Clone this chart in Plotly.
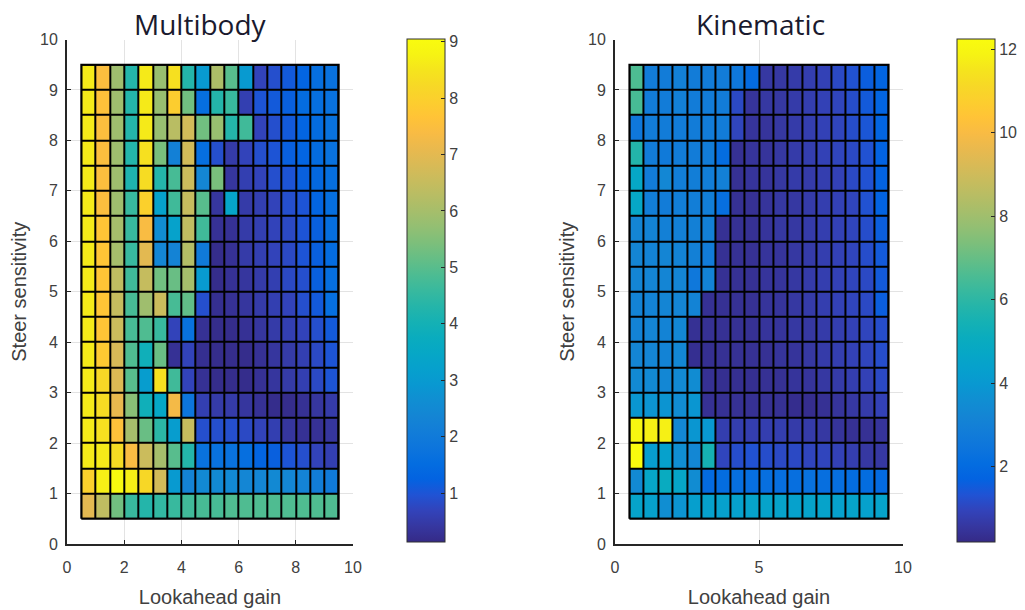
import plotly.graph_objects as go

# ---------------- data ----------------
lookahead_gain = [0.75, 1.25, 1.75, 2.25, 2.75, 3.25, 3.75, 4.25, 4.75,
                  5.25, 5.75, 6.25, 6.75, 7.25, 7.75, 8.25, 8.75, 9.25]
# rows listed from top (9.25) to bottom (0.75)
steer_sensitivity = [9.25, 8.75, 8.25, 7.75, 7.25, 6.75, 6.25, 5.75, 5.25,
                     4.75, 4.25, 3.75, 3.25, 2.75, 2.25, 1.75, 1.25, 0.75]

multibody = [
    [8.6, 7.5, 5.9, 4.3, 8.6, 5.8, 8.4, 4.3, 3.0, 6.1, 5.0, 3.0, 0.7, 0.9, 1.1, 1.3, 1.6, 1.7],
    [8.6, 7.6, 5.9, 4.3, 8.6, 5.8, 7.9, 5.3, 1.6, 4.3, 4.6, 0.6, 1.0, 1.1, 1.2, 1.5, 1.6, 1.7],
    [8.6, 7.5, 5.9, 4.3, 8.6, 5.8, 6.3, 6.7, 5.3, 5.8, 4.3, 4.7, 0.7, 0.9, 1.1, 1.3, 1.5, 1.7],
    [8.6, 7.5, 5.9, 4.3, 8.4, 5.4, 2.2, 6.7, 1.6, 0.9, 0.5, 0.7, 0.9, 1.0, 1.2, 1.3, 1.5, 1.7],
    [8.6, 7.5, 5.9, 4.2, 8.3, 4.3, 4.8, 6.6, 2.4, 5.4, 0.4, 0.6, 0.7, 0.9, 1.0, 1.2, 1.4, 1.6],
    [8.6, 7.5, 5.9, 4.6, 8.0, 3.3, 4.7, 6.5, 5.0, 0.4, 3.4, 0.5, 0.6, 0.7, 0.9, 1.0, 1.3, 1.6],
    [8.6, 7.7, 6.0, 4.6, 7.4, 2.6, 3.3, 6.4, 4.7, 0.3, 0.3, 0.5, 0.6, 0.7, 0.8, 1.0, 1.2, 1.6],
    [8.6, 7.7, 6.0, 4.6, 7.0, 2.4, 2.3, 6.2, 2.0, 0.2, 0.3, 0.5, 0.6, 0.7, 0.8, 1.0, 1.2, 1.5],
    [8.6, 7.7, 6.4, 4.7, 6.5, 5.3, 5.2, 6.0, 3.0, 0.2, 0.3, 0.4, 0.5, 0.6, 0.8, 0.9, 1.2, 1.6],
    [8.6, 7.7, 6.5, 4.8, 5.9, 6.6, 4.8, 5.1, 0.9, 0.25, 0.3, 0.4, 0.5, 0.6, 0.7, 0.9, 1.1, 1.6],
    [8.6, 7.7, 6.6, 4.8, 4.9, 4.6, 0.7, 1.7, 0.3, 0.2, 0.2, 0.3, 0.4, 0.5, 0.6, 0.7, 0.9, 1.1],
    [8.6, 7.8, 6.8, 4.9, 3.9, 5.2, 0.3, 0.7, 0.25, 0.2, 0.2, 0.2, 0.3, 0.4, 0.5, 0.6, 0.8, 1.0],
    [8.6, 8.2, 6.9, 5.0, 3.1, 8.4, 4.7, 0.7, 0.3, 0.2, 0.2, 0.2, 0.3, 0.4, 0.5, 0.6, 0.8, 1.0],
    [8.6, 8.3, 7.1, 5.6, 3.9, 3.5, 7.3, 1.8, 0.6, 0.5, 0.5, 0.4, 0.3, 0.2, 0.2, 0.3, 0.4, 0.5],
    [8.6, 8.4, 7.6, 6.0, 5.2, 4.4, 3.1, 6.5, 0.9, 0.9, 0.9, 0.8, 0.7, 0.6, 0.4, 0.3, 0.3, 0.4],
    [8.6, 8.6, 8.3, 7.4, 6.6, 6.0, 5.0, 4.3, 1.7, 1.7, 1.7, 1.6, 1.3, 1.2, 1.0, 0.9, 0.7, 0.6],
    [8.0, 8.7, 9.0, 8.7, 8.2, 6.7, 3.0, 2.3, 2.5, 2.5, 2.5, 2.4, 2.4, 2.5, 2.4, 2.3, 2.1, 2.0],
    [7.0, 6.4, 5.3, 4.6, 4.3, 4.5, 4.6, 4.7, 4.8, 4.8, 4.9, 4.9, 4.9, 4.9, 4.9, 4.9, 4.9, 4.9],
]

kinematic = [
    [6.6, 2.8, 2.8, 3.0, 2.8, 2.8, 2.8, 2.6, 2.0, 0.6, 0.6, 0.7, 0.8, 0.9, 1.1, 1.3, 1.6, 1.8],
    [6.5, 2.8, 2.8, 3.0, 2.8, 2.8, 2.8, 1.1, 0.5, 0.6, 0.6, 0.7, 0.8, 0.9, 1.0, 1.2, 1.5, 1.8],
    [2.6, 2.8, 2.8, 2.8, 2.8, 2.8, 2.8, 1.0, 0.5, 0.5, 0.6, 0.7, 0.8, 0.9, 1.0, 1.2, 1.4, 1.8],
    [5.8, 2.8, 2.7, 2.8, 2.8, 2.8, 2.1, 0.4, 0.5, 0.5, 0.6, 0.7, 0.8, 0.9, 1.0, 1.1, 1.3, 1.7],
    [4.7, 2.8, 3.3, 2.9, 2.9, 2.9, 3.0, 0.4, 0.5, 0.5, 0.6, 0.7, 0.7, 0.8, 0.9, 1.1, 1.3, 1.7],
    [4.7, 2.9, 2.8, 2.9, 2.9, 2.9, 2.2, 0.4, 0.4, 0.5, 0.6, 0.6, 0.7, 0.8, 0.9, 1.0, 1.3, 1.7],
    [3.2, 3.1, 3.0, 3.0, 3.0, 3.0, 0.4, 0.4, 0.4, 0.5, 0.6, 0.6, 0.7, 0.8, 0.9, 1.0, 1.2, 1.6],
    [3.2, 3.1, 3.2, 3.1, 3.0, 2.8, 0.4, 0.4, 0.4, 0.5, 0.5, 0.6, 0.7, 0.8, 0.9, 1.0, 1.2, 1.5],
    [3.2, 3.2, 3.2, 3.2, 2.6, 3.1, 0.4, 0.4, 0.4, 0.5, 0.5, 0.6, 0.7, 0.8, 0.9, 1.0, 1.1, 1.5],
    [3.1, 3.1, 3.2, 3.2, 3.1, 0.4, 0.4, 0.4, 0.4, 0.5, 0.5, 0.6, 0.7, 0.8, 0.9, 1.0, 1.1, 1.6],
    [3.1, 3.2, 3.1, 3.3, 0.4, 0.4, 0.4, 0.4, 0.4, 0.5, 0.5, 0.6, 0.6, 0.7, 0.8, 0.9, 1.0, 1.2],
    [3.2, 3.2, 3.1, 3.3, 0.35, 0.35, 0.4, 0.4, 0.4, 0.4, 0.5, 0.5, 0.6, 0.7, 0.8, 0.9, 1.0, 1.2],
    [3.4, 3.4, 3.3, 3.4, 3.5, 0.4, 0.35, 0.35, 0.35, 0.4, 0.4, 0.5, 0.5, 0.6, 0.7, 0.8, 0.9, 1.1],
    [3.9, 3.8, 3.8, 3.5, 3.9, 0.4, 0.4, 0.4, 0.4, 0.4, 0.4, 0.3, 0.3, 0.4, 0.5, 0.6, 0.7, 0.9],
    [12.0, 11.8, 11.8, 3.3, 3.9, 4.0, 0.8, 0.8, 0.8, 0.8, 0.8, 0.7, 0.7, 0.6, 0.5, 0.4, 0.4, 0.5],
    [12.25, 4.2, 4.4, 3.6, 3.3, 5.5, 1.0, 1.2, 1.3, 1.2, 1.1, 1.1, 1.0, 1.0, 0.9, 0.8, 0.6, 0.6],
    [3.4, 4.6, 5.0, 4.6, 3.5, 2.0, 2.1, 2.2, 2.2, 2.2, 2.2, 2.2, 2.3, 2.2, 2.2, 2.1, 2.1, 2.0],
    [4.5, 4.4, 3.6, 3.8, 4.3, 4.4, 4.4, 4.4, 4.5, 4.5, 4.5, 4.4, 4.5, 4.5, 4.4, 4.5, 4.4, 4.5],
]

multibody_ticks = [1, 2, 3, 4, 5, 6, 7, 8, 9]
kinematic_ticks = [2, 4, 6, 8, 10, 12]
x1_ticks = [0, 2, 4, 6, 8, 10]
x2_ticks = [0, 5, 10]
y_ticks = [0, 1, 2, 3, 4, 5, 6, 7, 8, 9, 10]

# ---------------- style ----------------
parula_rgb = [
    (0.2081, 0.1663, 0.5292), (0.2123, 0.2138, 0.6270), (0.1959, 0.2645, 0.7279),
    (0.1253, 0.3242, 0.8303), (0.0117, 0.3875, 0.8820), (0.0165, 0.4266, 0.8786),
    (0.0498, 0.4586, 0.8641), (0.0723, 0.4887, 0.8467), (0.0793, 0.5200, 0.8312),
    (0.0641, 0.5570, 0.8240), (0.0343, 0.5966, 0.8199), (0.0239, 0.6287, 0.8038),
    (0.0228, 0.6535, 0.7768), (0.0384, 0.6743, 0.7436), (0.0843, 0.6928, 0.7062),
    (0.1453, 0.7098, 0.6646), (0.2178, 0.7250, 0.6193), (0.3022, 0.7376, 0.5712),
    (0.3953, 0.7459, 0.5244), (0.4871, 0.7491, 0.4840), (0.5709, 0.7485, 0.4494),
    (0.6473, 0.7456, 0.4188), (0.7184, 0.7411, 0.3905), (0.7858, 0.7356, 0.3633),
    (0.8507, 0.7299, 0.3360), (0.9139, 0.7258, 0.3063), (0.9739, 0.7314, 0.2666),
    (0.9990, 0.7653, 0.2164), (0.9880, 0.8066, 0.1794), (0.9697, 0.8481, 0.1475),
    (0.9589, 0.8949, 0.1132), (0.9661, 0.9514, 0.0755), (0.9763, 0.9831, 0.0538),
]
n = len(parula_rgb)
parula = [[i / (n - 1), "rgb(%d,%d,%d)" % tuple(round(c * 255) for c in rgb)]
          for i, rgb in enumerate(parula_rgb)]

W, H = 1025, 610
def px_x(p):
    return p / W
def px_y(p):
    return 1 - p / H

x1_dom = [px_x(67), px_x(353)]
x2_dom = [px_x(615), px_x(903)]
y_dom = [px_y(544), px_y(39.5)]

tick_font = dict(family="Liberation Sans, Arial", size=16, color="#404040")
title_font = dict(family="Liberation Sans, Arial", size=20, color="#404040")

ys = steer_sensitivity[::-1]
panels = [
    (multibody[::-1], "x", "y", 0.14, 9.05, multibody_ticks, px_x(407)),
    (kinematic[::-1], "x2", "y2", 0.2, 12.25, kinematic_ticks, px_x(957)),
]

fig = go.Figure()
for z, xa, ya, zmin, zmax, cticks, cbx in panels:
    # black underlay that shows through the cell gaps as edge lines
    fig.add_trace(go.Heatmap(
        x=lookahead_gain, y=ys, z=[[1 for _ in row] for row in z],
        colorscale=[[0, "black"], [1, "black"]], showscale=False,
        xaxis=xa, yaxis=ya, hoverinfo="skip"))
    fig.add_trace(go.Heatmap(
        x=lookahead_gain, y=ys, z=z, zmin=zmin, zmax=zmax,
        colorscale=parula, xgap=2, ygap=2, xaxis=xa, yaxis=ya,
        colorbar=dict(
            x=cbx, xanchor="left", xpad=0, ypad=0,
            y=px_y((38.5 + 542) / 2), yanchor="middle",
            len=503, lenmode="pixels", thickness=38, thicknessmode="pixels",
            outlinecolor="#303030", outlinewidth=1,
            tickmode="array", tickvals=cticks, ticks="inside", ticklen=4,
            tickcolor="#262626", tickfont=tick_font,
        )))
    # outer border of the cell grid
    half = (lookahead_gain[1] - lookahead_gain[0]) / 2
    x0, x1 = lookahead_gain[0] - half, lookahead_gain[-1] + half
    y0, y1 = ys[0] - half, ys[-1] + half
    fig.add_trace(go.Scatter(
        x=[x0, x1, x1, x0, x0], y=[y0, y0, y1, y1, y0], mode="lines",
        line=dict(color="black", width=2), xaxis=xa, yaxis=ya,
        showlegend=False, hoverinfo="skip"))

axis_common = dict(
    range=[0, 10], showgrid=True, gridcolor="#e3e3e3", gridwidth=1,
    zeroline=False, showline=True, linecolor="#262626", linewidth=2,
    ticks="inside", ticklen=4, tickcolor="#262626", tickfont=tick_font,
    tickmode="array", fixedrange=True, automargin=False,
)

fig.update_layout(
    width=W, height=H, margin=dict(l=0, r=0, t=0, b=0, autoexpand=False),
    paper_bgcolor="white", plot_bgcolor="white", showlegend=False,
    xaxis=dict(axis_common, domain=x1_dom, anchor="y", tickvals=x1_ticks,
               ticklabelstandoff=8,
               title=dict(text="Lookahead gain", font=title_font, standoff=15)),
    yaxis=dict(axis_common, domain=y_dom, anchor="x", tickvals=y_ticks,
               ticklabelstandoff=4,
               title=dict(text="Steer sensitivity", font=title_font, standoff=8)),
    xaxis2=dict(axis_common, domain=x2_dom, anchor="y2", tickvals=x2_ticks,
                ticklabelstandoff=8,
                title=dict(text="Lookahead gain", font=title_font, standoff=15)),
    yaxis2=dict(axis_common, domain=y_dom, anchor="x2", tickvals=y_ticks,
                ticklabelstandoff=4,
                title=dict(text="Steer sensitivity", font=title_font, standoff=8)),
    annotations=[
        dict(text="Multibody", x=px_x(200), y=px_y(24),
             xref="paper", yref="paper", showarrow=False, xanchor="center", yanchor="middle",
             font=dict(family="Open Sans", size=28, color="#1a1a2e")),
        dict(text="Kinematic", x=px_x(760), y=px_y(24),
             xref="paper", yref="paper", showarrow=False, xanchor="center", yanchor="middle",
             font=dict(family="Open Sans", size=28, color="#1a1a2e")),
    ],
)

fig.write_html("out.html")
